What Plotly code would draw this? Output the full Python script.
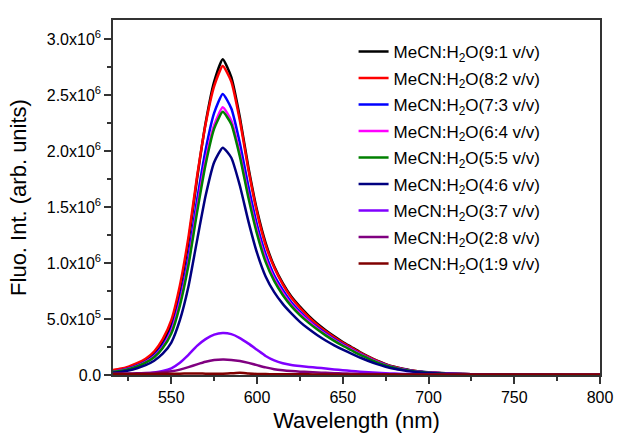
import numpy as np
import plotly.graph_objects as go

wavelength = [516, 520, 525, 530, 535, 540, 545, 550, 555, 560, 565, 570, 575, 580, 585, 590,
              595, 600, 605, 610, 615, 620, 625, 630, 635, 640, 645, 650, 655, 660, 665, 670,
              675, 680, 685, 690, 695, 700, 710, 720, 730, 740, 750, 760, 770, 780, 790, 800]

# intensities in units of 1e6
i_91 = [0.035, 0.045, 0.065, 0.095, 0.13, 0.19, 0.29, 0.45, 0.76, 1.19, 1.75, 2.25, 2.62, 2.82, 2.66, 2.30,
        1.85, 1.47, 1.18, 0.97, 0.82, 0.70, 0.61, 0.53, 0.46, 0.40, 0.345, 0.295, 0.25, 0.205, 0.165, 0.128,
        0.097, 0.073, 0.055, 0.041, 0.031, 0.024, 0.015, 0.009, 0.006, 0.004, 0.003, 0.002, 0.002, 0.001, 0.001, 0.001]
i_82 = [0.045, 0.055, 0.075, 0.105, 0.145, 0.21, 0.32, 0.49, 0.80, 1.23, 1.77, 2.24, 2.58, 2.76, 2.62, 2.27,
        1.83, 1.45, 1.16, 0.96, 0.81, 0.69, 0.60, 0.52, 0.45, 0.39, 0.337, 0.288, 0.244, 0.2, 0.161, 0.125,
        0.095, 0.071, 0.054, 0.04, 0.03, 0.023, 0.014, 0.009, 0.006, 0.004, 0.003, 0.002, 0.002, 0.001, 0.001, 0.001]
i_73 = [0.03, 0.04, 0.058, 0.085, 0.12, 0.175, 0.265, 0.41, 0.68, 1.06, 1.56, 2.01, 2.34, 2.51, 2.38, 2.07,
        1.68, 1.34, 1.08, 0.89, 0.76, 0.65, 0.565, 0.49, 0.428, 0.372, 0.32, 0.274, 0.232, 0.19, 0.153, 0.119,
        0.09, 0.068, 0.051, 0.038, 0.028, 0.022, 0.014, 0.008, 0.005, 0.004, 0.003, 0.002, 0.002, 0.001, 0.001, 0.001]
i_64 = [0.03, 0.038, 0.055, 0.08, 0.115, 0.165, 0.25, 0.39, 0.65, 1.01, 1.49, 1.92, 2.23, 2.39, 2.27, 1.98,
        1.61, 1.29, 1.04, 0.86, 0.735, 0.63, 0.55, 0.48, 0.418, 0.363, 0.313, 0.268, 0.227, 0.186, 0.15, 0.116,
        0.088, 0.066, 0.05, 0.037, 0.027, 0.021, 0.013, 0.008, 0.005, 0.004, 0.003, 0.002, 0.002, 0.001, 0.001, 0.001]
i_55 = [0.028, 0.036, 0.052, 0.076, 0.11, 0.158, 0.24, 0.37, 0.62, 0.98, 1.45, 1.88, 2.20, 2.35, 2.24, 1.95,
        1.58, 1.26, 1.01, 0.84, 0.715, 0.615, 0.535, 0.468, 0.408, 0.354, 0.305, 0.261, 0.221, 0.181, 0.146, 0.113,
        0.086, 0.064, 0.048, 0.036, 0.026, 0.02, 0.012, 0.008, 0.005, 0.004, 0.003, 0.002, 0.002, 0.001, 0.001, 0.001]
i_46 = [0.02, 0.027, 0.04, 0.06, 0.088, 0.128, 0.19, 0.29, 0.49, 0.79, 1.20, 1.60, 1.90, 2.03, 1.94, 1.69,
        1.37, 1.09, 0.88, 0.74, 0.635, 0.55, 0.475, 0.412, 0.357, 0.308, 0.265, 0.226, 0.19, 0.156, 0.125, 0.097,
        0.074, 0.055, 0.042, 0.031, 0.023, 0.018, 0.011, 0.007, 0.005, 0.003, 0.002, 0.002, 0.001, 0.001, 0.001, 0.001]
i_37 = [0.005, 0.006, 0.008, 0.011, 0.015, 0.022, 0.035, 0.06, 0.11, 0.18, 0.26, 0.32, 0.36, 0.375, 0.365, 0.33,
        0.28, 0.225, 0.17, 0.13, 0.105, 0.09, 0.08, 0.072, 0.065, 0.058, 0.05, 0.043, 0.036, 0.03, 0.025, 0.02,
        0.016, 0.013, 0.01, 0.008, 0.006, 0.005, 0.003, 0.002, 0.002, 0.001, 0.001, 0.001, 0.001, 0.001, 0.001, 0.001]
i_28 = [0.012, 0.013, 0.014, 0.015, 0.017, 0.02, 0.025, 0.033, 0.048, 0.07, 0.095, 0.118, 0.133, 0.138, 0.135, 0.125,
        0.108, 0.088, 0.068, 0.052, 0.042, 0.035, 0.03, 0.026, 0.022, 0.019, 0.016, 0.014, 0.012, 0.01, 0.009, 0.008,
        0.007, 0.006, 0.005, 0.005, 0.004, 0.004, 0.003, 0.003, 0.002, 0.002, 0.002, 0.002, 0.002, 0.002, 0.002, 0.002]
i_19 = [0.008, 0.008, 0.009, 0.009, 0.01, 0.01, 0.011, 0.011, 0.012, 0.013, 0.014, 0.012, 0.011, 0.011, 0.015, 0.02,
        0.014, 0.009, 0.008, 0.007, 0.007, 0.006, 0.006, 0.006, 0.005, 0.005, 0.005, 0.005, 0.005, 0.004, 0.004, 0.004,
        0.004, 0.004, 0.004, 0.004, 0.004, 0.004, 0.004, 0.004, 0.004, 0.004, 0.004, 0.004, 0.004, 0.004, 0.004, 0.004]

series_names = ["MeCN:H<sub>2</sub>O(9:1 v/v)", "MeCN:H<sub>2</sub>O(8:2 v/v)", "MeCN:H<sub>2</sub>O(7:3 v/v)",
                "MeCN:H<sub>2</sub>O(6:4 v/v)", "MeCN:H<sub>2</sub>O(5:5 v/v)", "MeCN:H<sub>2</sub>O(4:6 v/v)",
                "MeCN:H<sub>2</sub>O(3:7 v/v)", "MeCN:H<sub>2</sub>O(2:8 v/v)", "MeCN:H<sub>2</sub>O(1:9 v/v)"]
series_values = [i_91, i_82, i_73, i_64, i_55, i_46, i_37, i_28, i_19]
series_colors = ["#000000", "#FF0000", "#0000FF", "#FF00FF", "#008000", "#000080", "#8000FF", "#800080", "#800000"]

x_tickvals = [550, 600, 650, 700, 750, 800]
y_tickvals = [0, 0.5e6, 1.0e6, 1.5e6, 2.0e6, 2.5e6, 3.0e6]
y_ticktext = ["0.0", "5.0x10<sup>5</sup>", "1.0x10<sup>6</sup>", "1.5x10<sup>6</sup>",
              "2.0x10<sup>6</sup>", "2.5x10<sup>6</sup>", "3.0x10<sup>6</sup>"]

FONT = "Arial, 'Liberation Sans', sans-serif"
fig = go.Figure()
for k, (name, vals, col) in enumerate(zip(series_names, series_values, series_colors)):
    fig.add_trace(go.Scatter(x=wavelength, y=np.array(vals) * 1e6, mode="lines", name=name,
                             legendgroup=f"g{k}",
                             line=dict(color=col, width=2.5, shape="spline", smoothing=0.5)))

axis_common = dict(showline=True, linecolor="#333333", linewidth=1.5, mirror=True, showgrid=False,
                   zeroline=False, ticks="outside", ticklen=7, tickwidth=1.5, tickcolor="#333333",
                   automargin=False,
                   tickfont=dict(family=FONT, size=16, color="#000000"))
fig.update_xaxes(range=[516, 800], tickvals=x_tickvals,
                 minor=dict(dtick=25, tick0=500, ticks="outside", ticklen=4, tickwidth=1.5, tickcolor="#333333"),
                 title=dict(text="Wavelength (nm)", font=dict(family=FONT, size=22, color="#000000"), standoff=8),
                 **axis_common)
fig.update_yaxes(range=[0, 3.17e6], tickvals=y_tickvals, ticktext=y_ticktext,
                 minor=dict(dtick=0.25e6, tick0=0, ticks="outside", ticklen=4, tickwidth=1.5, tickcolor="#333333"),
                 title=dict(text="Fluo. Int. (arb. units)", font=dict(family=FONT, size=22, color="#000000"), standoff=14),
                 **axis_common)
fig.update_layout(width=618, height=435, margin=dict(l=113, r=18, t=20, b=60),
                  paper_bgcolor="white", plot_bgcolor="white",
                  legend=dict(x=0.494, y=0.961, xanchor="left", yanchor="top", bgcolor="rgba(0,0,0,0)",
                              traceorder="grouped", tracegroupgap=1.4,
                              font=dict(family=FONT, size=17, color="#000000")))
fig.write_html("out.html")
